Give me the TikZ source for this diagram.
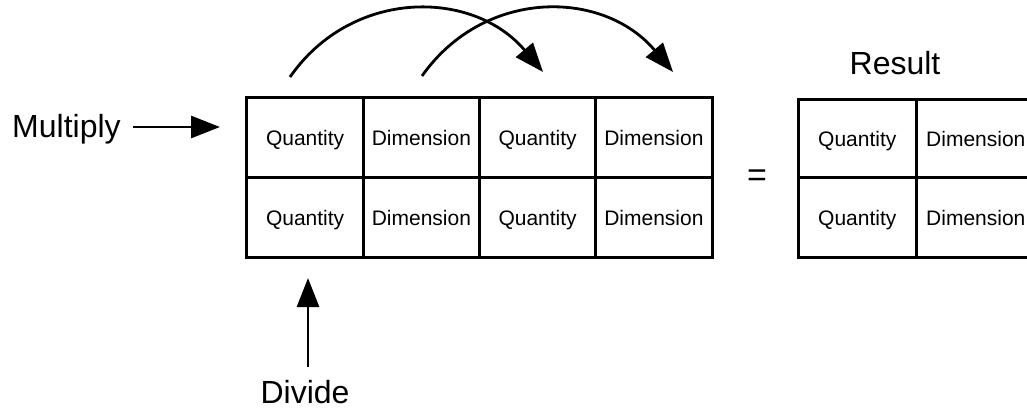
\documentclass[tikz,border=0pt]{standalone}
\usepackage{fontspec}
\setmainfont{Liberation Sans}
\usetikzlibrary{arrows.meta}
\begin{document}
\begin{tikzpicture}[x=1pt,y=-1pt,
  cell/.style={draw=black, line width=3pt, inner sep=0pt, outer sep=0pt,
    minimum height=80pt, text height=15pt, text depth=0pt,
    font=\fontsize{21}{24}\selectfont},
  lcell/.style={cell, minimum width=116.25pt},
  rcell/.style={cell, minimum width=118.5pt},
  lbl/.style={inner sep=0pt, font=\fontsize{32}{36}\selectfont},
  bigarrow/.style={line width=2.8pt, -{Triangle[length=29pt,width=22pt]}}
]
\useasboundingbox (0,0) rectangle (1027,409);
% left grid
\node[lcell] (a1) at (305.1,137.5) {Quantity};
\node[lcell] (a2) at (421.4,137.5) {Dimension};
\node[lcell] (a3) at (537.6,137.5) {Quantity};
\node[lcell] (a4) at (653.9,137.5) {Dimension};
\node[lcell] (b1) at (305.1,217.5) {Quantity};
\node[lcell] (b2) at (421.4,217.5) {Dimension};
\node[lcell] (b3) at (537.6,217.5) {Quantity};
\node[lcell] (b4) at (653.9,217.5) {Dimension};
% right grid
\node[rcell, minimum height=77.5pt] (r1) at (857.3,138.75) {Quantity};
\node[rcell, minimum height=77.5pt] (r2) at (975.8,138.75) {Dimension};
\node[rcell] (s1) at (857.3,217.5) {Quantity};
\node[rcell] (s2) at (975.8,217.5) {Dimension};
% labels
\node[lbl, anchor=base west] (mul) at (12,138) {Multiply};
\node[lbl, anchor=base] (div) at (305,403) {Divide};
\node[lbl, anchor=base] (res) at (895,75) {Result};
\node[inner sep=0pt, font=\fontsize{34}{36}\selectfont] (eq) at (757,178) {=};
% arrow end points
\coordinate (m0) at (133,127);
\coordinate (m1) at (220,127);
\coordinate (d0) at (308,367);
\coordinate (d1) at (308,278);
\coordinate (c1s) at (290,77);
\coordinate (c1e) at (543,72);
\coordinate (c2s) at (422,76);
\coordinate (c2e) at (673,72);
% arrows
\draw[bigarrow] (m0) -- (m1);
\draw[bigarrow] (d0) -- (d1);
\draw[bigarrow] (c1s) .. controls (352,-12) and (473,-11) .. (c1e);
\draw[bigarrow] (c2s) .. controls (484,-12) and (603,-11) .. (c2e);
\end{tikzpicture}
\end{document}
